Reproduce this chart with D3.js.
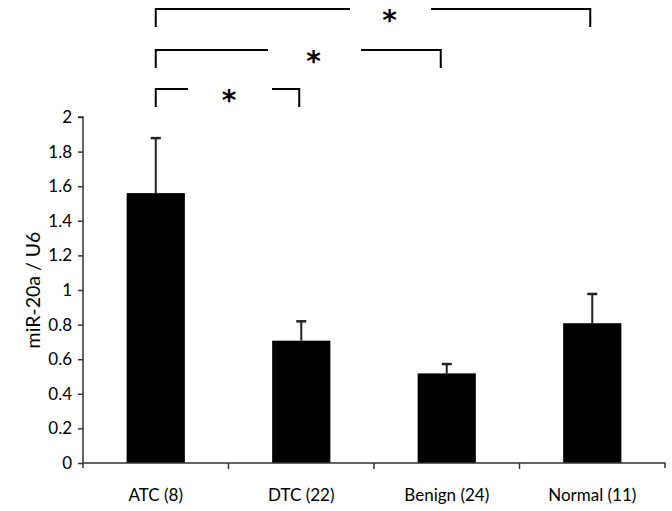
<!DOCTYPE html>
<html><head><meta charset="utf-8">
<script src="https://cdn.jsdelivr.net/npm/d3@7"></script>
<style>body{margin:0;background:#fff}svg{display:block}</style>
</head><body>
<script>
const categories = ["ATC (8)", "DTC (22)", "Benign (24)", "Normal (11)"];
const means = [1.56, 0.707, 0.518, 0.808];
const errors = [0.318, 0.112, 0.054, 0.169];
const yTicks = [0, 0.2, 0.4, 0.6, 0.8, 1, 1.2, 1.4, 1.6, 1.8, 2];
const yTickLabels = ["0", "0.2", "0.4", "0.6", "0.8", "1", "1.2", "1.4", "1.6", "1.8", "2"];
const yLabel = "miR-20a / U6";
const comparisons = [
  {from: "ATC (8)", to: "Normal (11)", label: "*"},
  {from: "ATC (8)", to: "Benign (24)", label: "*"},
  {from: "ATC (8)", to: "DTC (22)", label: "*"}
];

const W = 672, H = 511;
const m = {left: 83, right: 7, top: 117, bottom: 48};
const svg = d3.select("body").append("svg").attr("width", W).attr("height", H);
const font = "Lato, 'Open Sans', sans-serif";

const x = d3.scaleBand().domain(categories).range([m.left, W - m.right]).paddingInner(0.6).paddingOuter(0.3);
const xb = d3.scaleBand().domain(categories).range([m.left, W - m.right]);
const y = d3.scaleLinear().domain([0, 2]).range([H - m.bottom, m.top]);

// bars
svg.append("g").selectAll("rect").data(means).join("rect")
  .attr("x", (d, i) => x(categories[i]))
  .attr("width", x.bandwidth())
  .attr("y", d => y(d))
  .attr("height", d => y(0) - y(d))
  .attr("fill", "#000");

// error bars
const eg = svg.append("g").attr("stroke", "#222").attr("stroke-width", 2);
means.forEach((d, i) => {
  const cx = x(categories[i]) + x.bandwidth() / 2;
  eg.append("line").attr("x1", cx).attr("x2", cx).attr("y1", y(d)).attr("y2", y(d + errors[i]));
  eg.append("line").attr("x1", cx - 5).attr("x2", cx + 5).attr("y1", y(d + errors[i])).attr("y2", y(d + errors[i])).attr("stroke-width", 2.5);
});

// y axis
const yAxis = d3.axisLeft(y).tickValues(yTicks).tickFormat((d, i) => yTickLabels[i]).tickSize(5).tickPadding(6);
const gy = svg.append("g").attr("transform", `translate(${m.left},0)`).call(yAxis);
gy.select(".domain").attr("stroke", "#333").attr("stroke-width", 1.5).attr("d", `M-5,${y(2)}H0V${y(0)+5}`);
gy.selectAll(".tick line").attr("stroke", "#333").attr("stroke-width", 1.5);
gy.selectAll(".tick text").attr("font-family", font).attr("font-size", 17).attr("fill", "#000");

// x axis
const xAxis = d3.axisBottom(xb).tickSize(0).tickPadding(26);
const gx = svg.append("g").attr("transform", `translate(0,${y(0)})`).call(xAxis);
gx.select(".domain").attr("stroke", "#333").attr("stroke-width", 1.5).attr("d", `M${m.left},0H${W - m.right}V5`);
gx.selectAll(".tick text").attr("font-family", font).attr("font-size", 17).attr("fill", "#000");
// category boundary ticks
categories.slice(1).forEach(c => {
  gx.append("line").attr("x1", xb(c)).attr("x2", xb(c)).attr("y1", 0).attr("y2", 6).attr("stroke", "#333").attr("stroke-width", 1.5);
});

// y label
svg.append("text").attr("transform", `translate(40,${y(1)}) rotate(-90)`)
  .attr("text-anchor", "middle").attr("font-family", font).attr("font-size", 19.5).attr("fill", "#000").text(yLabel);

// significance brackets
const levels = [9, 50, 89];
const gaps = [[350, 431], [268, 361], [188, 272]];
const bg = svg.append("g").attr("stroke", "#000").attr("stroke-width", 2).attr("fill", "none");
comparisons.forEach((c, i) => {
  const x1 = x(c.from) + x.bandwidth() / 2;
  const x2 = x(c.to) + x.bandwidth() / 2 - (i === 1 ? 6 : 2);
  const yy = levels[i];
  const [g1, g2] = gaps[i];
  bg.append("path").attr("d", `M${x1},${yy + 18}V${yy}H${g1}`);
  bg.append("path").attr("d", `M${g2},${yy}H${x2}V${yy + 18}`);
  svg.append("text").attr("x", (g1 + g2) / 2 - 1).attr("y", yy + 21)
    .attr("text-anchor", "middle").attr("font-family", "'DejaVu Sans', sans-serif").attr("font-weight", "bold")
    .attr("font-size", 28).text(c.label);
});
</script>
</body></html>
